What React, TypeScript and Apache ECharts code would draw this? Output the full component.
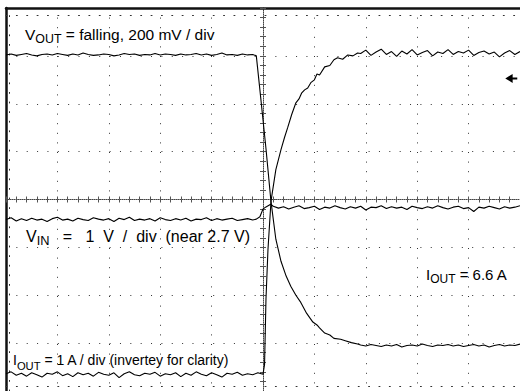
import React, { useEffect, useRef } from "react";
import * as echarts from "echarts";

// Screen: 10 horizontal divisions, 8 vertical divisions, centred on 0
const X_MIN = -5;
const X_MAX = 5;
const Y_MIN = -4;
const Y_MAX = 4;
const SAMPLE_DT = 0.1; // divisions between plotted scope samples

// ---- V_OUT (200 mV/div) ----
const voutPreStart = -5.0;
const voutPre = [
  3.02, 3.04, 3.01, 3.03, 3.05, 3.02, 3.0, 3.03, 3.04, 3.02,
  3.05, 3.03, 3.01, 3.04, 3.02, 3.06, 3.03, 3.01, 3.02, 3.04,
  3.03, 3.0, 3.02, 3.05, 3.03, 3.04, 3.01, 3.03, 3.02, 3.05,
  3.02, 3.04, 3.03, 3.01, 3.04, 3.02, 3.03, 3.05, 3.02, 3.04,
  3.01, 3.03, 3.06, 3.02, 3.03, 3.01, 3.04, 3.02, 3.03,
];
const voutEdge = [
  [-0.13, 3.0], [-0.04, 2.08], [0.06, 1.04], [0.155, -0.04], [0.25, -0.83],
  [0.35, -1.29], [0.45, -1.6], [0.54, -1.81], [0.64, -2.0], [0.735, -2.15],
  [0.85, -2.38], [0.97, -2.56], [1.05, -2.62], [1.1, -2.68], [1.2, -2.79],
  [1.3, -2.83], [1.38, -2.9], [1.51, -2.92], [1.6, -2.95], [1.72, -2.99], [1.84, -3.02],
];
const voutPostStart = 1.9;
const voutPost = [
  -3.04, -3.06, -3.03, -3.05, -3.07, -3.04, -3.06, -3.03, -3.08, -3.05,
  -3.04, -3.06, -3.02, -3.05, -3.07, -3.04, -3.05, -3.03, -3.06, -3.04,
  -3.07, -3.05, -3.03, -3.06, -3.04, -3.08, -3.05, -3.03, -3.06, -3.04,
  -3.05, -3.02,
];

// ---- I_OUT (1 A/div, inverted) ----
const ioutPreStart = -5.0;
const ioutPre = [
  -3.64, -3.6, -3.67, -3.63, -3.69, -3.62, -3.66, -3.71, -3.63, -3.65,
  -3.6, -3.68, -3.64, -3.7, -3.62, -3.66, -3.63, -3.69, -3.61, -3.65,
  -3.67, -3.62, -3.72, -3.64, -3.6, -3.66, -3.68, -3.63, -3.65, -3.61,
  -3.69, -3.64, -3.66, -3.62, -3.7, -3.63, -3.67, -3.6, -3.65, -3.68,
  -3.62, -3.66, -3.71, -3.63, -3.65, -3.61, -3.67, -3.64, -3.66, -3.62,
  -3.65,
];
const ioutEdge = [
  [0.03, -3.45], [0.058, -2.08], [0.097, -1.04], [0.155, -0.04], [0.25, 0.625],
  [0.35, 1.04], [0.42, 1.3], [0.48, 1.5], [0.56, 1.78], [0.64, 2.02],
  [0.7, 2.1], [0.75, 2.22], [0.81, 2.29], [0.87, 2.33], [0.93, 2.44],
  [1.0, 2.5], [1.05, 2.62], [1.1, 2.6], [1.2, 2.77], [1.3, 2.8],
  [1.38, 2.92], [1.45, 2.96], [1.55, 2.93], [1.65, 3.02], [1.75, 3.0], [1.84, 3.06],
];
const ioutPostStart = 1.9;
const ioutPost = [
  3.05, 3.12, 3.01, 3.08, 3.14, 3.03, 3.09, 2.99, 3.1, 3.04,
  3.13, 3.02, 3.07, 3.11, 3.0, 3.08, 3.05, 3.13, 3.03, 3.09,
  3.06, 3.12, 3.01, 3.07, 3.1, 3.04, 3.08, 2.98, 3.06, 3.11,
  3.03, 3.09,
];

// ---- V_IN (1 V/div) ----
const vinPreStart = -5.0;
const vinPre = [
  -0.42, -0.38, -0.45, -0.4, -0.44, -0.39, -0.43, -0.41, -0.46, -0.4,
  -0.37, -0.43, -0.41, -0.45, -0.39, -0.42, -0.44, -0.38, -0.41, -0.43,
  -0.4, -0.46, -0.39, -0.42, -0.37, -0.44, -0.41, -0.43, -0.4, -0.45,
  -0.38, -0.42, -0.44, -0.4, -0.43, -0.39, -0.45, -0.41, -0.42, -0.38,
  -0.44, -0.4, -0.43, -0.41, -0.39, -0.44, -0.42, -0.4, -0.43,
];
const vinEdge = [
  [-0.13, -0.41], [-0.06, -0.36], [0.0, -0.2], [0.05, -0.16], [0.1, -0.13], [0.15, -0.1],
];
const vinPostStart = 0.2;
const vinPost = [
  -0.14, -0.18, -0.15, -0.2, -0.16, -0.13, -0.19, -0.17, -0.14, -0.21,
  -0.16, -0.18, -0.13, -0.17, -0.2, -0.15, -0.18, -0.14, -0.22, -0.16,
  -0.17, -0.13, -0.19, -0.15, -0.18, -0.16, -0.21, -0.14, -0.17, -0.19,
  -0.15, -0.18, -0.13, -0.17, -0.2, -0.16, -0.14, -0.19, -0.17, -0.25,
  -0.16, -0.18, -0.14, -0.17, -0.2, -0.15, -0.18, -0.16, -0.13,
];

// trigger level marker (divisions)
const triggerMarker = [4.83, 2.53];

const FONT = "'Liberation Sans', Arial, Helvetica, sans-serif";
const NB = "\u00a0";

function sampled(start: number, values: number[]) {
  return values.map((v, i) => [Number((start + i * SAMPLE_DT).toFixed(3)), v]);
}

function trace(pre: number[], preStart: number, edge: number[][], post: number[], postStart: number) {
  return [...sampled(preStart, pre), ...edge, ...sampled(postStart, post)];
}

function rich(size: number) {
  const sub = Math.round(size * 0.8 * 10) / 10;
  return {
    m: { fontSize: size, fontFamily: FONT, color: "#1a1a1a", lineHeight: 22 },
    s: { fontSize: sub, fontFamily: FONT, color: "#1a1a1a", lineHeight: 22, verticalAlign: "bottom" },
  };
}

export default function App() {
  const ref = useRef<HTMLDivElement>(null);
  useEffect(() => {
    if (!ref.current) return;
    const chart = echarts.init(ref.current, null, { renderer: "svg" });
    const xBase = {
      type: "value",
      min: X_MIN,
      max: X_MAX,
      interval: 1,
      axisLabel: { show: false },
      axisTick: { show: false },
      splitLine: { show: false },
    };
    const yBase = { ...xBase, min: Y_MIN, max: Y_MAX };
    const centerTicks = {
      axisTick: { show: true, length: 3, lineStyle: { color: "#555", width: 1 } },
      minorTick: { show: true, splitNumber: 5, length: 3, lineStyle: { color: "#555", width: 1 } },
    };
    const dotStyleH = { color: "#333", width: 1, type: [1, 9.36] };
    const dotStyleV = { color: "#333", width: 1, type: [1, 8.6] };
    const lineStyle = { color: "#000", width: 1.1 };
    const option = {
      animation: false,
      backgroundColor: "#fff",
      grid: { left: 6, top: 8, width: 518, height: 384, containLabel: false },
      xAxis: [
        {
          ...xBase,
          position: "top",
          axisLine: { show: true, onZero: false, lineStyle: { color: "#111", width: 2.5 } },
          splitLine: { show: true, lineStyle: dotStyleV },
        },
        {
          ...xBase,
          position: "bottom",
          axisLine: { show: true, onZero: true, lineStyle: { color: "#444", width: 1, type: [1, 1] } },
          ...centerTicks,
        },
        {
          ...xBase,
          position: "top",
          axisLine: { show: true, onZero: true, lineStyle: { opacity: 0 } },
          ...centerTicks,
        },
        {
          ...xBase,
          position: "top",
          offset: -7,
          axisLine: { show: true, onZero: false, lineStyle: dotStyleH },
        },
        {
          ...xBase,
          position: "bottom",
          offset: -5,
          axisLine: { show: true, onZero: false, lineStyle: dotStyleH },
        },
      ],
      yAxis: [
        {
          ...yBase,
          position: "left",
          axisLine: { show: true, onZero: false, lineStyle: { color: "#111", width: 2.5 } },
          splitLine: { show: true, lineStyle: dotStyleH },
        },
        {
          ...yBase,
          position: "left",
          axisLine: { show: true, onZero: true, lineStyle: { color: "#444", width: 1, type: [1, 1] } },
          ...centerTicks,
        },
        {
          ...yBase,
          position: "right",
          axisLine: { show: true, onZero: true, lineStyle: { opacity: 0 } },
          ...centerTicks,
        },
        {
          ...yBase,
          position: "left",
          offset: -3,
          axisLine: { show: true, onZero: false, lineStyle: dotStyleV },
        },
      ],
      series: [
        {
          name: "VOUT",
          type: "line",
          xAxisIndex: 0,
          yAxisIndex: 0,
          data: trace(voutPre, voutPreStart, voutEdge, voutPost, voutPostStart),
          showSymbol: false,
          symbol: "none",
          lineStyle,
          silent: true,
          markPoint: {
            symbol: "path://M0,4.5 L8,0 L8,3.5 L13,3.5 L13,5.5 L8,5.5 L8,9 Z",
            symbolSize: [12, 9],
            itemStyle: { color: "#000" },
            label: { show: false },
            data: [{ coord: triggerMarker }],
          },
        },
        {
          name: "IOUT",
          type: "line",
          xAxisIndex: 0,
          yAxisIndex: 0,
          data: trace(ioutPre, ioutPreStart, ioutEdge, ioutPost, ioutPostStart),
          showSymbol: false,
          symbol: "none",
          lineStyle,
          silent: true,
        },
        {
          name: "VIN",
          type: "line",
          xAxisIndex: 0,
          yAxisIndex: 0,
          data: trace(vinPre, vinPreStart, vinEdge, vinPost, vinPostStart),
          showSymbol: false,
          symbol: "none",
          lineStyle,
          silent: true,
        },
      ],
      graphic: [
        {
          type: "text",
          x: 25,
          y: 23,
          style: { text: "{m|V}{s|OUT}{m| = falling, 200 mV / div}", rich: rich(15.5) },
        },
        {
          type: "text",
          x: 26,
          y: 225,
          style: {
            text:
              "{m|V}{s|IN}{m|" + NB + NB + NB + "=" + NB + NB + NB + "1" + NB + NB + "V" + NB + NB + "/" +
              NB + NB + "div" + NB + NB + "(near 2.7 V)}",
            rich: rich(16),
          },
        },
        {
          type: "text",
          x: 426,
          y: 263,
          style: { text: "{m|I}{s|OUT}{m| = 6.6 A}", rich: rich(15) },
        },
        {
          type: "text",
          x: 13,
          y: 349,
          style: { text: "{m|I}{s|OUT}{m| = 1 A / div (invertey for clarity)}", rich: rich(14) },
        },
      ],
    };
    chart.setOption(option as any);
    return () => chart.dispose();
  }, []);
  return (
    <div
      ref={ref}
      style={{ position: "fixed", left: 0, top: 0, width: 520, height: 391, background: "#fff" }}
    />
  );
}
